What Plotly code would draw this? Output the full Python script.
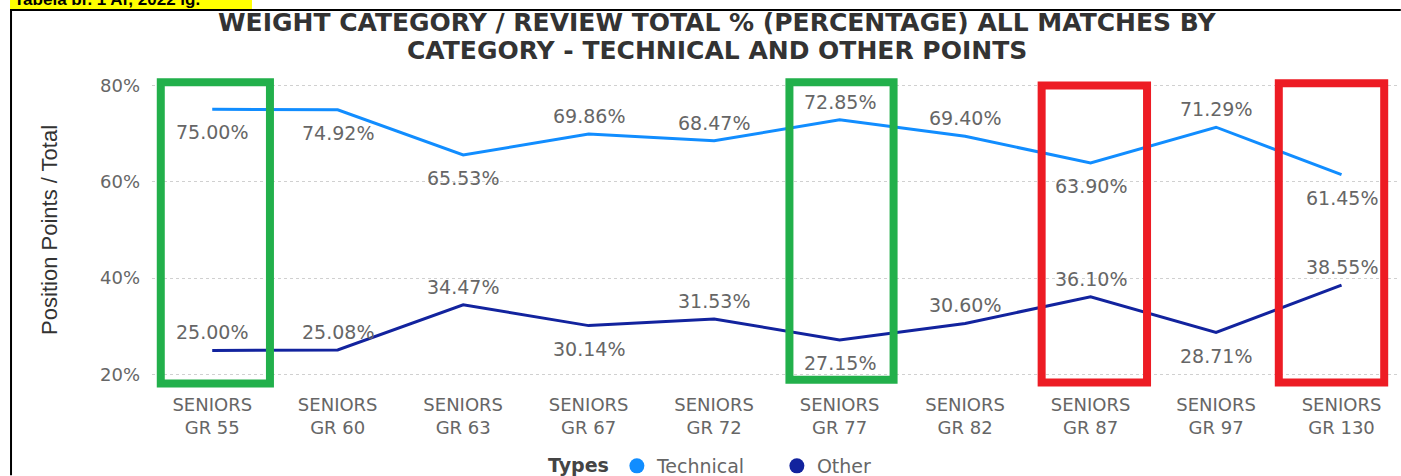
import plotly.graph_objects as go

# data
categories = ["SENIORS<br>GR 55", "SENIORS<br>GR 60", "SENIORS<br>GR 63", "SENIORS<br>GR 67",
              "SENIORS<br>GR 72", "SENIORS<br>GR 77", "SENIORS<br>GR 82", "SENIORS<br>GR 87",
              "SENIORS<br>GR 97", "SENIORS<br>GR 130"]
technical = [75.00, 74.92, 65.53, 69.86, 68.47, 72.85, 69.40, 63.90, 71.29, 61.45]
other = [25.00, 25.08, 34.47, 30.14, 31.53, 27.15, 30.60, 36.10, 28.71, 38.55]
technical_label_pos = ["below", "below", "below", "above", "above", "above", "above", "below", "above", "below"]
other_label_pos = ["above", "above", "above", "below", "above", "below", "above", "above", "below", "above"]
y_ticks = [20, 40, 60, 80]

title_lines = ["WEIGHT CATEGORY / REVIEW TOTAL % (PERCENTAGE) ALL MATCHES BY",
               "CATEGORY - TECHNICAL AND OTHER POINTS"]

# highlight boxes drawn over the chart: (category index, left, right, top, bottom, colour)
highlights = [
    (0, -0.41, 0.46, 80.6, 18.15, "#22B04B"),
    (5, -0.40, 0.43, 80.6, 18.9, "#22B04B"),
    (7, -0.39, 0.45, 79.95, 18.35, "#ED1C24"),
    (9, -0.50, 0.34, 80.4, 18.35, "#ED1C24"),
]

W, H = 1401, 476
L_PX, R_PX, T_PX, B_PX = 152.0, 1398.2, 77.75, 388.5
PLOT_W, PLOT_H = R_PX - L_PX, B_PX - T_PX

TECH_COLOR = "#118DFF"
OTHER_COLOR = "#12239E"
FONT = "DejaVu Sans"
GREY = "#666666"


def px_x(px):
    return (px - L_PX) / PLOT_W


def px_y(py):
    return (B_PX - py) / PLOT_H


def build_chart() -> go.Figure:
    x = list(range(len(categories)))
    fig = go.Figure()
    for name, vals, color in [("Technical", technical, TECH_COLOR), ("Other", other, OTHER_COLOR)]:
        fig.add_trace(go.Scatter(
            x=x, y=vals, mode="lines", name=name,
            line=dict(color=color, width=3),
            showlegend=False, hoverinfo="skip",
        ))
    # legend entries shown as dots
    for name, color in [("Technical", TECH_COLOR), ("Other", OTHER_COLOR)]:
        fig.add_trace(go.Scatter(
            x=[None], y=[None], mode="markers", name=name,
            marker=dict(color=color, size=15, symbol="circle"),
        ))

    annotations = []
    for vals, pos in [(technical, technical_label_pos), (other, other_label_pos)]:
        for i, (v, p) in enumerate(zip(vals, pos)):
            annotations.append(dict(
                x=i, y=v, xref="x", yref="y", text=f"{v:.2f}%", showarrow=False,
                yshift=18 if p == "above" else -23,
                font=dict(family=FONT, size=19, color=GREY),
            ))

    # two title lines, placed separately to keep them close together
    for line, py in zip(title_lines, [22, 50]):
        annotations.append(dict(
            x=px_x(717), y=px_y(py), xref="paper", yref="paper", xanchor="center", yanchor="middle",
            text=line, showarrow=False,
            font=dict(family=FONT, size=25, color="#333333", weight="bold"),
        ))

    # y axis title
    annotations.append(dict(
        x=px_x(50), y=px_y(230), xref="paper", yref="paper", xanchor="center", yanchor="middle",
        text="Position Points / Total", textangle=-90, showarrow=False,
        font=dict(family="Liberation Sans Narrow, Liberation Sans", size=22, color="#333333"),
    ))
    # caption strip at the very top, cut off by the page edge
    annotations.append(dict(
        x=px_x(12), y=px_y(-1), xref="paper", yref="paper", xanchor="left", yanchor="middle",
        text="<b>Tabela br. 1 Ar, 2022 ig.</b>", showarrow=False,
        font=dict(family="Liberation Sans", size=17, color="#000000"),
    ))

    shapes = [
        dict(type="rect", xref="paper", yref="paper", x0=px_x(10), x1=px_x(252), y0=px_y(8.5), y1=px_y(-5),
             fillcolor="#FFFF00", line=dict(width=0), layer="below"),
        dict(type="line", xref="paper", yref="paper", x0=px_x(10), x1=px_x(1401), y0=px_y(9.5), y1=px_y(9.5),
             line=dict(color="#000000", width=2)),
        dict(type="line", xref="paper", yref="paper", x0=px_x(11), x1=px_x(11), y0=px_y(9), y1=px_y(476),
             line=dict(color="#000000", width=2)),
    ]
    for idx, left, right, top, bottom, color in highlights:
        shapes.append(dict(
            type="rect", xref="x", yref="y", x0=idx + left, x1=idx + right, y0=bottom, y1=top,
            line=dict(color=color, width=8), fillcolor="rgba(0,0,0,0)",
        ))

    fig.update_layout(
        width=W, height=H,
        margin=dict(l=L_PX, r=W - R_PX, t=T_PX, b=H - B_PX, pad=0),
        paper_bgcolor="#FFFFFF", plot_bgcolor="#FFFFFF",
        xaxis=dict(
            range=[-0.48, 9.45], tickvals=list(range(len(categories))), ticktext=categories,
            showgrid=False, zeroline=False, showline=False, automargin=False,
            tickfont=dict(family=FONT, size=18, color=GREY),
            ticklabelstandoff=4,
        ),
        yaxis=dict(
            range=[17.2, 81.5], tickvals=y_ticks, ticktext=[f"{t}%" for t in y_ticks],
            showgrid=True, gridcolor="#D0D0D0", griddash="dot", gridwidth=1,
            zeroline=False, showline=False, automargin=False,
            tickfont=dict(family=FONT, size=18, color=GREY),
            ticklabelstandoff=11,
        ),
        legend=dict(
            orientation="h", xref="container", yref="container",
            x=546 / W, xanchor="left", y=1 - 466 / H, yanchor="middle",
            title=dict(text="<b>Types</b>", font=dict(family=FONT, size=19, color="#444444")),
            font=dict(family=FONT, size=19, color=GREY),
            itemwidth=30, entrywidth=115, entrywidthmode="pixels",
            bgcolor="rgba(0,0,0,0)",
        ),
        annotations=annotations,
        shapes=shapes,
        showlegend=True,
    )
    return fig


fig = build_chart()
# drop the browser's default page margin so the figure sits at the window's corner
fig.write_html("out.html", config={"displayModeBar": False},
               post_script="document.body.style.margin='0';")
